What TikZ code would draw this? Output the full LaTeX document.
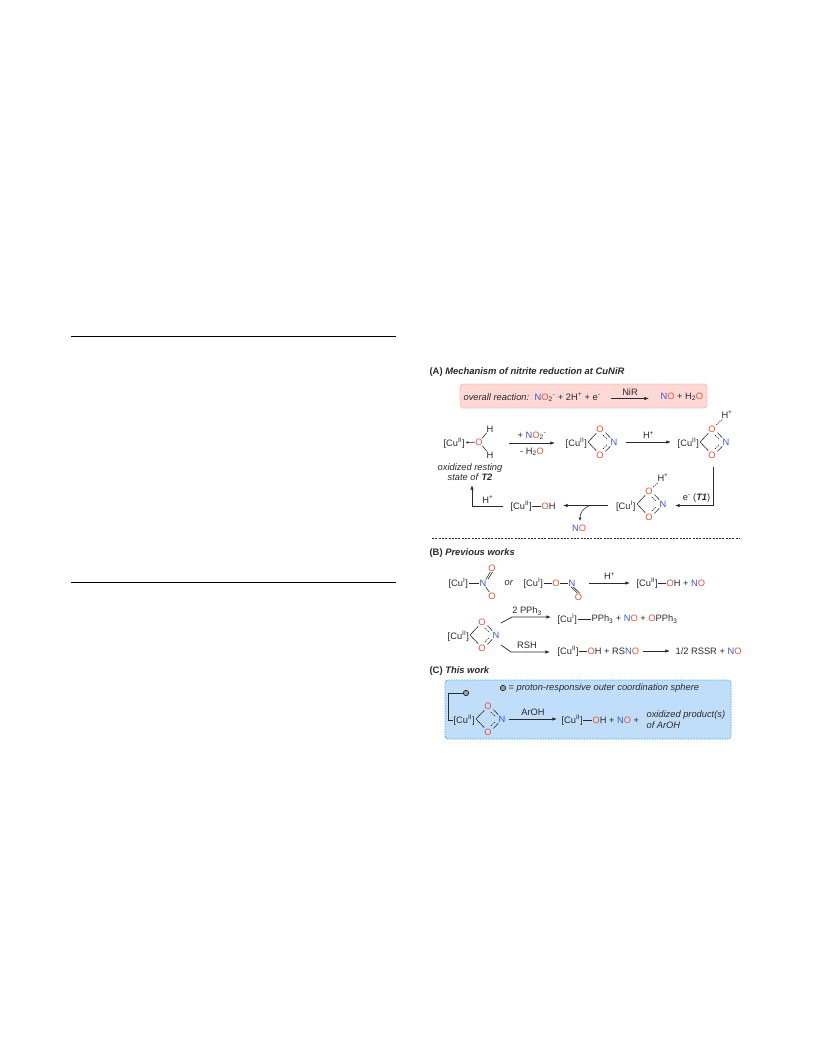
\documentclass[tikz,border=0pt]{standalone}
\usepackage{fontspec}
\setmainfont{Liberation Sans}
\usetikzlibrary{arrows.meta}
\definecolor{ored}{HTML}{F0503C}
\definecolor{nblue}{HTML}{3A55D8}
\definecolor{ink}{HTML}{2A2A2A}
\definecolor{pinkfill}{HTML}{FDD8D4}
\definecolor{pinkline}{HTML}{F5A8A2}
\definecolor{bluefill}{HTML}{C0DDFA}
\definecolor{blueline}{HTML}{45AAF0}
\newcommand\Ox{\textcolor{ored}{O}}
\newcommand\Ni{\textcolor{nblue}{N}}
\newcommand\Cua{[Cu\textsuperscript{I}]}
\newcommand\Cub{[Cu\textsuperscript{II}]}
\newcommand\Hp{H\textsuperscript{+}}
\newcommand\ringat[3]{%
 \begin{scope}[shift={(#2,#3)}]
  \coordinate (#1v) at (0,0);
  \node[txt] (#1a) at (12,-13) {\Ox};
  \node[txt] (#1b) at (12,13) {\Ox};
  \node[txt] (#1n) at (26,0) {\Ni};
  \draw[bond] (#1v) -- (8.2,-8.6);
  \draw[bond] (#1v) -- (8.2,8.6);
  \draw[bond] (17.4,-9.4) -- (22.2,-4.4);
  \draw[bond] (17.4,9.4) -- (22.2,4.4);
  \draw[bond,dash pattern=on 1.3pt off 1pt] (14.8,-7) -- (19.4,-2.6);
  \draw[bond,dash pattern=on 1.3pt off 1pt] (14.8,7) -- (19.4,2.6);
 \end{scope}}
\tikzset{
 x=1pt,y=-1pt,
 txt/.style={inner sep=0pt,outer sep=0.6pt,text=ink,font=\fontsize{9.3}{11}\selectfont},
 lft/.style={txt,anchor=west},
 bold/.style={lft,font=\fontsize{9.4}{11}\selectfont\bfseries},
 bond/.style={draw=ink,line width=0.6pt},
 arr/.style={draw=ink,line width=0.7pt,-{Latex[length=4.6pt,width=3.4pt]}},
 hbar/.style={draw=black,line width=0.6pt},
 probe/.style={circle,draw=ink,fill=gray!75,line width=0.7pt,minimum size=5.4pt,inner sep=0pt},
}
\begin{document}
\begin{tikzpicture}
\useasboundingbox (0,0) rectangle (816,1056);
\fill[white] (0,0) rectangle (816,1056);
\draw[hbar] (71,336) -- (396,336);
\draw[hbar] (71,582) -- (396,582);

% --- A ---
\node[bold] (titleA) at (429,372) {(A) \textit{Mechanism of nitrite reduction at CuNiR}};
\node[draw=pinkline,fill=pinkfill,dash pattern=on 1.4pt off 1.2pt,rounded corners=3pt,line width=0.8pt,minimum width=247pt,minimum height=24pt,inner sep=0pt] (boxA) at (583.5,396) {};
\node[lft] (ov) at (463,397) {\textit{overall reaction:}};
\node[lft] (ovl) at (534,397) {\Ni\Ox\textsubscript{2}\textsuperscript{-} + 2H\textsuperscript{+} + e\textsuperscript{-}};
\coordinate (ova) at (611,398.5);
\coordinate (ovb) at (649,398.5);
\draw[arr] (ova) -- node[txt,above=2.5pt] (nir) {NiR} (ovb);
\node[lft] (ovr) at (660,397) {\Ni\Ox{} + H\textsubscript{2}\Ox};

\node[lft] (cu1) at (443,443) {\Cub};
\node[txt] (ow) at (479,442) {\Ox};
\node[txt] (h1) at (490,429) {H};
\node[txt] (h2) at (490,455) {H};
\draw[bond] (ow) -- (h1);
\draw[bond] (ow) -- (h2);
\draw[draw=ink,line width=0.6pt,-{Latex[length=3pt,width=2.6pt]}] (ow) -- (cu1);

\coordinate (a1s) at (509,443);
\coordinate (a1e) at (555,443);
\draw[arr] (a1s) -- (a1e);
\node[txt] (a1t) at (532,435.5) {+ \Ni\Ox\textsubscript{2}\textsuperscript{-}};
\node[txt] (a1b) at (532,451.5) {- H\textsubscript{2}\Ox};

\node[anchor=east,txt] (cu2) at (587.5,443) {\Cub};
\ringat{r}{588}{442}

\coordinate (a2s) at (626,442);
\coordinate (a2e) at (671,442);
\draw[arr] (a2s) -- node[txt,above=2.5pt] (hp2) {\Hp} (a2e);

\node[anchor=east,txt] (cu3) at (699.5,443) {\Cub};
\ringat{s}{700}{442}
\node[txt] (hs) at (727,415) {\Hp};
\draw[bond,dash pattern=on 1.3pt off 1pt] (sa) -- (hs);

\coordinate (e1) at (713,467);
\coordinate (e2) at (713,505.5);
\coordinate (e3) at (675,505.5);
\draw[arr] (e1) -- (e2) -- (e3);
\node[txt] (et) at (696.5,498) {e\textsuperscript{-} (\textit{\textbf{T1}})};

\node[anchor=east,txt] (cu4) at (636,506) {\Cua};
\ringat{t}{637}{504}
\node[txt] (ht) at (663,478) {\Hp};
\draw[bond,dash pattern=on 1.3pt off 1pt] (ta) -- (ht);

\coordinate (b1) at (608,505.5);
\coordinate (b2) at (563,505.5);
\draw[arr] (b1) -- (b2);
\coordinate (cs) at (590,505.5);
\node[txt] (no) at (579,528) {\Ni\Ox};
\draw[draw=ink,line width=0.6pt,-{Latex[length=3.4pt,width=3pt]}] (cs) .. controls (583,508) and (580,513) .. (580,521);

\node[lft] (cu5) at (510,506) {\Cub};
\node[lft] (oh5) at (541,506) {\Ox H};
\draw[bond] (cu5) -- (oh5);

\coordinate (c1) at (503,506);
\coordinate (c2) at (472,506);
\coordinate (c3) at (472,485);
\draw[arr] (c1) -- (c2) -- (c3);
\node[txt] (hp5) at (488,499.5) {\Hp};

\node[txt,align=center,font=\fontsize{9.3}{10.3}\selectfont] (rest) at (470,472) {\textit{oxidized resting}\\\textit{state of }\textit{\textbf{T2}}};

\coordinate (d1) at (432,538);
\coordinate (d2) at (739,538);
\draw[draw=ink,line width=0.5pt,dash pattern=on 2pt off 1.3pt] (d1) -- (d2);

% --- B ---
\node[bold] (titleB) at (429,553) {(B) \textit{Previous works}};

\node[lft] (cu6) at (448,583) {\Cua};
\node[txt] (n6) at (483,583) {\Ni};
\node[txt] (o6a) at (492,568) {\Ox};
\node[txt] (o6b) at (492,596) {\Ox};
\draw[bond] (cu6) -- (n6);
\draw[bond] (n6) -- (o6b);
\draw[bond] ([xshift=-1pt]n6.north east) -- ([xshift=-1.6pt]o6a.south);
\draw[bond] ([xshift=1pt]n6.north east) -- ([xshift=0.6pt]o6a.south);

\node[lft] (or) at (504,583) {\textit{or}};
\node[lft] (cu7) at (523,583) {\Cua};
\node[txt] (o7) at (556,583) {\Ox};
\node[txt] (n7) at (572,583) {\Ni};
\node[txt] (o7b) at (578.5,597) {\Ox};
\draw[bond] (cu7) -- (o7);
\draw[bond] (o7) -- (n7);
\draw[bond] ([xshift=-1.1pt]n7.south) -- ([xshift=-1.1pt]o7b.north);
\draw[bond] ([xshift=1.1pt]n7.south) -- ([xshift=1.1pt]o7b.north);

\coordinate (f1) at (589,583);
\coordinate (f2) at (630,583);
\draw[arr] (f1) -- node[txt,above=2.5pt] (hp6) {\Hp} (f2);

\node[lft] (cu8) at (636,583) {\Cub};
\node[lft] (oh8) at (666,583) {\Ox H + \Ni\Ox};
\draw[bond] (cu8) -- (oh8);

\node[anchor=east,txt] (cu9) at (469.5,636) {\Cub};
\ringat{u}{470}{635}

\coordinate (g1) at (501,623);
\coordinate (g2) at (512,617);
\coordinate (g3) at (551,617);
\draw[arr] (g1) -- (g2) -- (g3);
\node[txt] (tpp) at (527,611) {2 PPh\textsubscript{3}};

\node[lft] (cu10) at (557,619) {\Cua};
\node[lft] (pp10) at (591,619) {PPh\textsubscript{3} + \Ni\Ox{} + \Ox PPh\textsubscript{3}};
\draw[bond] (cu10) -- (pp10);

\coordinate (j1) at (501,645);
\coordinate (j2) at (511,652);
\coordinate (j3) at (550,652);
\draw[arr] (j1) -- (j2) -- (j3);
\node[txt] (rsh) at (527,645) {RSH};

\node[lft] (cu11) at (557,651) {\Cub};
\node[lft] (oh11) at (587,651) {\Ox H + RS\Ni\Ox};
\draw[bond] (cu11) -- (oh11);
\coordinate (k1) at (643,651);
\coordinate (k2) at (670,651);
\draw[arr] (k1) -- (k2);
\node[lft] (rssr) at (675,651) {1/2 RSSR + \Ni\Ox};

% --- C ---
\node[bold] (titleC) at (429,671) {(C) \textit{This work}};
\node[draw=blueline,fill=bluefill,dash pattern=on 1.4pt off 1.2pt,rounded corners=3pt,line width=0.9pt,minimum width=286pt,minimum height=59pt,inner sep=0pt] (boxC) at (588,709.5) {};
\node[probe] (leg) at (503,688) {};
\node[lft] (legt) at (508,688) {= \textit{proton-responsive outer coordination sphere}};
\node[probe] (pr) at (466,693) {};
\node[lft] (cu12) at (453,720) {\Cub};
\draw[bond] (pr) -| (448,720) -- (cu12);
\ringat{v}{476}{719}
\coordinate (m1) at (509,719);
\coordinate (m2) at (557,719);
\draw[arr] (m1) -- node[txt,above=2.5pt] (aroh) {ArOH} (m2);
\node[lft] (cu13) at (561,720) {\Cub};
\node[lft] (oh13) at (592,720) {\Ox H + \Ni\Ox{} +};
\draw[bond] (cu13) -- (oh13);
\node[lft,align=left,font=\fontsize{9.3}{11}\selectfont] (oxp) at (646,719.5) {\textit{oxidized product(s)}\\\textit{of ArOH}};
\end{tikzpicture}
\end{document}
